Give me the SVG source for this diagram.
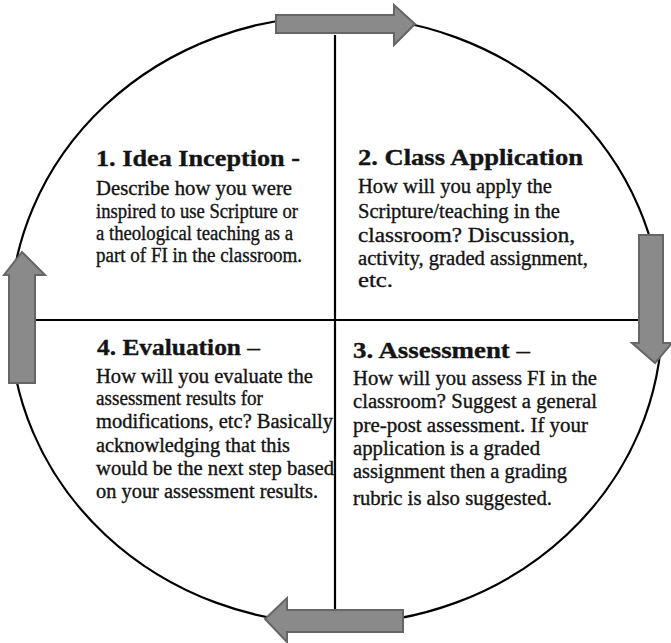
<svg xmlns="http://www.w3.org/2000/svg" width="671" height="643" viewBox="0 0 671 643">
<style>
.ln{stroke:#000;stroke-width:2.2;fill:none}
.ar{fill:#8a8a8a;stroke:#666;stroke-width:2;stroke-linejoin:miter}
</style>
<rect width="671" height="643" fill="#fff"/>
<g id="connectors">
<ellipse class="ln" cx="336" cy="320" rx="326" ry="304"/>
<line class="ln" x1="335" y1="35" x2="335" y2="612"/>
<line class="ln" x1="35" y1="320" x2="639" y2="320"/>
<polygon id="arrow-top" class="ar" points="276,15 394,15 394,5 415,24 394,45 394,33 276,33"/>
<polygon id="arrow-right" class="ar" points="639,235 663,235 663,343 672,343 655,363 632,343 639,343"/>
<polygon id="arrow-bottom" class="ar" points="403,610 287,610 287,598 265,619 287,642 287,632 403,632"/>
<polygon id="arrow-left" class="ar" points="9,383 9,275 4,275 22,252 45,275 35,275 35,383"/>
</g>
<g id="q1" font-family="Liberation Serif, Times New Roman, serif" font-size="20" fill="#141414" stroke="#141414" stroke-width="0.35">
<text x="96" y="166" font-size="24" font-weight="bold" textLength="204" lengthAdjust="spacingAndGlyphs">1. Idea Inception -</text>
<text x="96" y="195" textLength="196" lengthAdjust="spacingAndGlyphs">Describe how you were</text>
<text x="96" y="218" textLength="202" lengthAdjust="spacingAndGlyphs">inspired  to use Scripture or</text>
<text x="96" y="240" textLength="197" lengthAdjust="spacingAndGlyphs">a theological  teaching as a</text>
<text x="96" y="262" textLength="206" lengthAdjust="spacingAndGlyphs">part of FI in the classroom.</text>
</g>
<g id="q2" font-family="Liberation Serif, Times New Roman, serif" font-size="20" fill="#141414" stroke="#141414" stroke-width="0.35">
<text x="358" y="165" font-size="24" font-weight="bold" textLength="225" lengthAdjust="spacingAndGlyphs">2. Class Application</text>
<text x="358" y="193" textLength="194" lengthAdjust="spacingAndGlyphs">How will  you apply the</text>
<text x="358" y="218" textLength="202" lengthAdjust="spacingAndGlyphs">Scripture/teaching in the</text>
<text x="358" y="242" textLength="217" lengthAdjust="spacingAndGlyphs">classroom? Discussion,</text>
<text x="358" y="265" textLength="230" lengthAdjust="spacingAndGlyphs">activity,  graded assignment,</text>
<text x="358" y="287" textLength="35" lengthAdjust="spacingAndGlyphs">etc.</text>
</g>
<g id="q4" font-family="Liberation Serif, Times New Roman, serif" font-size="20" fill="#141414" stroke="#141414" stroke-width="0.35">
<text x="97" y="355" font-size="24" font-weight="bold" textLength="163" lengthAdjust="spacingAndGlyphs">4. Evaluation <tspan font-weight="normal">–</tspan></text>
<text x="96" y="383" textLength="217" lengthAdjust="spacingAndGlyphs">How will  you evaluate the</text>
<text x="96" y="405" textLength="167" lengthAdjust="spacingAndGlyphs">assessment results for</text>
<text x="96" y="428" textLength="237" lengthAdjust="spacingAndGlyphs">modifications,  etc? Basically</text>
<text x="96" y="452" textLength="194" lengthAdjust="spacingAndGlyphs">acknowledging  that this</text>
<text x="96" y="475" textLength="238" lengthAdjust="spacingAndGlyphs">would be the next step based</text>
<text x="96" y="498" textLength="222" lengthAdjust="spacingAndGlyphs">on your  assessment results.</text>
</g>
<g id="q3" font-family="Liberation Serif, Times New Roman, serif" font-size="20" fill="#141414" stroke="#141414" stroke-width="0.35">
<text x="353" y="358" font-size="24" font-weight="bold" textLength="177" lengthAdjust="spacingAndGlyphs">3. Assessment <tspan font-weight="normal">–</tspan></text>
<text x="353" y="385" textLength="244" lengthAdjust="spacingAndGlyphs">How will  you assess FI in the</text>
<text x="353" y="408" textLength="244" lengthAdjust="spacingAndGlyphs">classroom? Suggest a general</text>
<text x="353" y="432" textLength="235" lengthAdjust="spacingAndGlyphs">pre-post assessment.  If your</text>
<text x="353" y="455" textLength="187" lengthAdjust="spacingAndGlyphs">application  is  a graded</text>
<text x="353" y="478" textLength="214" lengthAdjust="spacingAndGlyphs">assignment then a grading</text>
<text x="353" y="505" textLength="199" lengthAdjust="spacingAndGlyphs">rubric is  also suggested.</text>
</g>
</svg>
